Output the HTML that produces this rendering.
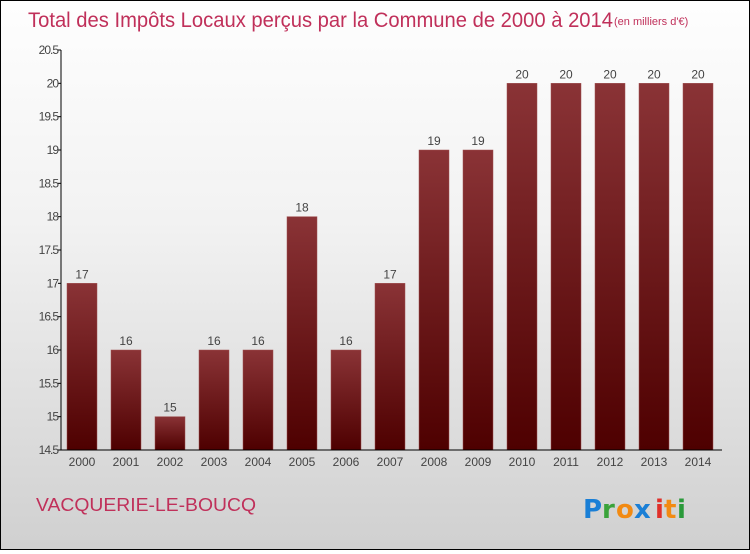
<!DOCTYPE html>
<html><head><meta charset="utf-8"><style>
html,body{margin:0;padding:0}
body{width:750px;height:550px;overflow:hidden;font-family:"Liberation Sans",sans-serif}
#wrap{position:relative;width:748px;height:548px;border:1px solid #000;background:linear-gradient(#fefefe,#f2f2f2 40%,#d0d0d0)}
</style></head><body>
<div id="wrap">
<svg width="748" height="548" viewBox="1 1 748 548" xmlns="http://www.w3.org/2000/svg" id="svg">
<text x="28" y="27" font-size="21" fill="#c0305a" style="font-family:'Liberation Sans',sans-serif;font-weight:300" textLength="585" lengthAdjust="spacingAndGlyphs">Total des Impôts Locaux perçus par la Commune de 2000 à 2014</text>
<text x="614" y="25" font-size="11" fill="#c0305a">(en milliers d'€)</text>
<text x="36" y="511" font-size="18" fill="#c0305a" textLength="220" lengthAdjust="spacingAndGlyphs">VACQUERIE-LE-BOUCQ</text>
<g font-size="26" font-weight="bold" font-family="'DejaVu Sans',sans-serif">
<text x="583" y="518" fill="#1a7fd6">P</text><text x="602" y="518" fill="#3aa33a">r</text><text x="616" y="518" fill="#f28a12">o</text><text x="634" y="518" fill="#1a7fd6">x</text><text x="655" y="518" fill="#e0302a">i</text><text x="664" y="518" fill="#f28a12">t</text><text x="677" y="518" fill="#2a9a3a">i</text>
</g>
<defs><linearGradient id="bg" x1="0" y1="0" x2="0" y2="1"><stop offset="0" stop-color="#8a3336"/><stop offset="1" stop-color="#4e0000"/></linearGradient></defs>
<g id="bars"></g><g id="axes"></g>
</svg></div>
<script>
const years=["2000","2001","2002","2003","2004","2005","2006","2007","2008","2009","2010","2011","2012","2013","2014"];
const values=[17,16,15,16,16,18,16,17,19,19,20,20,20,20,20];
const labels=["17","16","15","16","16","18","16","17","19","19","20","20","20","20","20"];
const yTicks=[14.5,15,15.5,16,16.5,17,17.5,18,18.5,19,19.5,20,20.5];
const ns="http://www.w3.org/2000/svg";
const x0=62,band=44,plotTop=50,plotBot=450,ymin=14.5,ymax=20.5;
const yScale=v=>plotBot-(v-ymin)/(ymax-ymin)*(plotBot-plotTop);
const barsG=document.getElementById('bars'),axesG=document.getElementById('axes');
function mk(t,a,p){const e=document.createElementNS(ns,t);for(const k in a)e.setAttribute(k,a[k]);p.appendChild(e);return e;}
values.forEach((v,i)=>{
 const bx=x0+i*band+5;
 const r=mk('rect',{x:bx,y:yScale(v),width:30,height:plotBot-yScale(v),fill:'url(#bg)',stroke:'#a05050','stroke-width':0.5},barsG);
 
 
 const t=mk('text',{x:bx+15,y:yScale(v)-5,'font-size':12,fill:'#444','text-anchor':'middle'},barsG);t.textContent=labels[i];
 
 
 const xl=mk('text',{x:bx+15,y:plotBot+16,'font-size':12,fill:'#444','text-anchor':'middle'},axesG);xl.textContent=years[i];
 
 
});
const ya=mk('line',{x1:x0-1,y1:plotTop,x2:x0-1,y2:plotBot,stroke:'#000'},axesG);


const xa=mk('line',{x1:x0-1,y1:plotBot,x2:x0+band*15,y2:plotBot,stroke:'#000'},axesG);


yTicks.forEach(v=>{
 mk('line',{x1:x0-4,y1:yScale(v),x2:x0-1,y2:yScale(v),stroke:'#000'},axesG);
 const t=mk('text',{x:x0-4,y:yScale(v)+4,'font-size':12,fill:'#444','text-anchor':'end','letter-spacing':'-1'},axesG);t.textContent=String(v);
 
 
});
</script>
</body></html>
